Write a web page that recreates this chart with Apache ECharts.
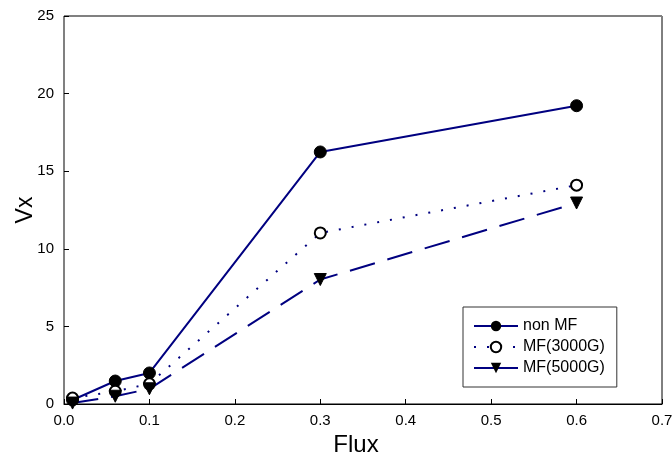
<!DOCTYPE html>
<html><head><meta charset="utf-8">
<script src="https://cdn.jsdelivr.net/npm/echarts@6/dist/echarts.min.js"></script>
<style>html,body{margin:0;padding:0;background:#fff}#c{width:672px;height:460px}</style>
</head><body><div id="c"></div>
<script>
const flux = [0.01, 0.06, 0.1, 0.3, 0.6];
const nonMF = [0.26, 1.48, 2.0, 16.24, 19.22];
const mf3000 = [0.38, 0.82, 1.3, 11.02, 14.1];
const mf5000 = [0.06, 0.5, 0.98, 8.02, 12.95];
const seriesNames = ['non MF', 'MF(3000G)', 'MF(5000G)'];

const navy = '#000080';
const font = 'Liberation Sans, Arial, sans-serif';
function pairs(ys){ return flux.map((x,i)=>[x, ys[i]]); }

const chart = echarts.init(document.getElementById('c'));
chart.setOption({
  animation: false,
  backgroundColor: '#fff',
  grid: {left: 64, right: 10, top: 16, bottom: 56, show: true, borderColor: '#000', borderWidth: 1,
         containLabel: false, outerBoundsMode: 'none'},
  xAxis: [{
    type: 'value', min: 0, max: 0.7, interval: 0.1,
    name: 'Flux', nameLocation: 'middle', nameGap: 27,
    nameTextStyle: {fontFamily: font, fontSize: 24, color: '#000', padding: [0, 14, 0, 0]},
    axisLine: {show: true, lineStyle: {color: '#000', width: 1}},
    axisTick: {show: true, inside: true, length: 5, lineStyle: {color: '#000'}},
    axisLabel: {fontFamily: font, fontSize: 15, color: '#000', margin: 9, formatter: v => v.toFixed(1)},
    splitLine: {show: false}
  }, {
    type: 'value', position: 'top', min: 0, max: 0.7,
    axisLine: {show: true, lineStyle: {color: '#808080', width: 1}},
    axisTick: {show: false}, axisLabel: {show: false}, splitLine: {show: false}
  }],
  yAxis: [{
    type: 'value', min: 0, max: 25, interval: 5,
    name: 'Vx', nameLocation: 'middle', nameGap: 27, nameRotate: 90, nameMoveOverlap: false,
    nameTextStyle: {fontFamily: font, fontSize: 23, color: '#000'},
    axisLine: {show: true, lineStyle: {color: '#808080', width: 1}},
    axisTick: {show: true, inside: true, length: 5, lineStyle: {color: '#000'}},
    axisLabel: {fontFamily: font, fontSize: 15, color: '#000', margin: 10},
    splitLine: {show: false}
  }],
  legend: {
    orient: 'vertical', left: 463, top: 307,
    itemWidth: 44, itemHeight: 13, itemGap: 5,
    padding: [11, 12, 11, 10],
    borderColor: '#333', borderWidth: 1, backgroundColor: '#fff',
    textStyle: {fontFamily: font, fontSize: 16, color: '#000'},
    data: [
      {name: seriesNames[0]},
      {name: seriesNames[1]},
      {name: seriesNames[2], lineStyle: {type: 'solid'}}
    ]
  },
  series: [{
    name: seriesNames[0], type: 'line', data: pairs(nonMF),
    symbol: 'circle', symbolSize: 12,
    itemStyle: {color: '#000', borderColor: '#000'},
    lineStyle: {color: navy, width: 2, type: 'solid'}
  }, {
    name: seriesNames[1], type: 'line', data: pairs(mf3000),
    symbol: 'emptyCircle', symbolSize: 11,
    itemStyle: {color: '#000', borderColor: '#000', borderWidth: 1},
    lineStyle: {color: navy, width: 2, type: [2, 11]}
  }, {
    name: seriesNames[2], type: 'line', data: pairs(mf5000),
    symbol: 'triangle', symbolRotate: 180, symbolSize: 12,
    itemStyle: {color: '#000', borderColor: '#000'},
    lineStyle: {color: navy, width: 2, type: [26, 13]}
  }]
});
</script></body></html>
